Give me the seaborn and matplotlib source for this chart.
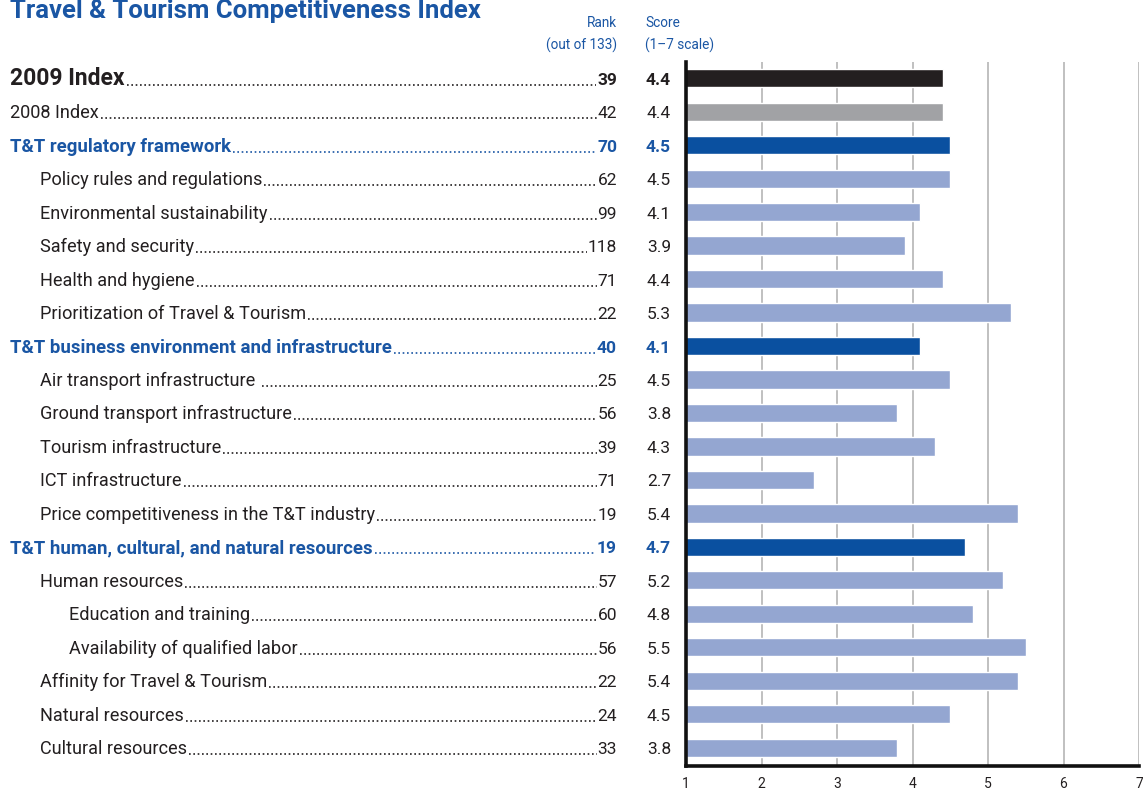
import matplotlib
matplotlib.use("Agg")
import matplotlib.pyplot as plt
import matplotlib.transforms as mtransforms
from matplotlib.lines import Line2D
import pandas as pd
import seaborn as sns

labels = ["2009 Index", "2008 Index", "T&T regulatory framework",
          "Policy rules and regulations", "Environmental sustainability",
          "Safety and security", "Health and hygiene",
          "Prioritization of Travel & Tourism",
          "T&T business environment and infrastructure",
          "Air transport infrastructure ", "Ground transport infrastructure",
          "Tourism infrastructure", "ICT infrastructure",
          "Price competitiveness in the T&T industry",
          "T&T human, cultural, and natural resources", "Human resources",
          "Education and training", "Availability of qualified labor",
          "Affinity for Travel & Tourism", "Natural resources",
          "Cultural resources"]
ranks = [39, 42, 70, 62, 99, 118, 71, 22, 40, 25, 56, 39, 71, 19,
         19, 57, 60, 56, 22, 24, 33]
scores = [4.4, 4.4, 4.5, 4.5, 4.1, 3.9, 4.4, 5.3, 4.1, 4.5, 3.8, 4.3, 2.7, 5.4,
          4.7, 5.2, 4.8, 5.5, 5.4, 4.5, 3.8]
kinds = ["overall", "previous", "pillar", "sub", "sub", "sub", "sub", "sub",
         "pillar", "sub", "sub", "sub", "sub", "sub",
         "pillar", "sub", "subsub", "subsub", "sub", "sub", "sub"]

palette = {"overall": "#231f20", "previous": "#a1a2a5", "pillar": "#0a50a0",
           "sub": "#94a6d1", "subsub": "#94a6d1"}
blue = "#1a56a4"
dark = "#231f20"
indent = {"overall": 10, "previous": 10, "pillar": 10, "sub": 40, "subsub": 69}

df = pd.DataFrame({"label": labels, "score": scores, "kind": kinds})

sns.set_style("white")
plt.rcParams["font.family"] = ["Roboto", "DejaVu Sans"]

W, H = 1143, 792
fig = plt.figure(figsize=(W / 100, H / 100), dpi=100)
ax = fig.add_axes([686 / W, 1 - 766 / H, (1139 - 686) / W, (766 - 62) / H])

sns.barplot(data=df, x="score", y="label", hue="kind", palette=palette,
            dodge=False, legend=False, orient="h", width=0.54,
            saturation=1, ax=ax)

ax.set_xlim(1, 7)
ax.set_ylim(20.54, -0.48)
ax.set_xticks(range(1, 8))
ax.set_yticks([])
ax.set_xlabel("")
ax.set_ylabel("")
ax.grid(axis="x", color="#b5b5b5", linewidth=1.2)
ax.set_axisbelow(True)
for s in ["top", "right"]:
    ax.spines[s].set_visible(False)
for s in ["left", "bottom"]:
    ax.spines[s].set_color("#111111")
    ax.spines[s].set_linewidth(2.6)
ax.tick_params(axis="x", length=0, pad=8, labelsize=10, labelcolor=dark)

# title and column headers
fig.text(10 / W, 1 - 18 / H, "Travel & Tourism Competitiveness Index",
         fontsize=18.5, fontweight="bold", color=blue, va="baseline")
hdr = dict(fontsize=9.8, color=blue, va="baseline")
fig.text(617 / W, 1 - 27 / H, "Rank", ha="right", **hdr)
fig.text(617 / W, 1 - 50 / H, "(out of 133)", ha="right", **hdr)
fig.text(645 / W, 1 - 27 / H, "Score", ha="left", **hdr)
fig.text(645 / W, 1 - 50 / H, "(1–7 scale)", ha="left", **hdr)

base = mtransforms.blended_transform_factory(fig.transFigure, ax.transData)
trans = base + mtransforms.ScaledTranslation(0, -0.065, fig.dpi_scale_trans)

items = []
for i, (lab, rk, sc, kd) in enumerate(zip(labels, ranks, scores, kinds)):
    if kd == "overall":
        col, wt, fs = dark, "bold", 16.5
    elif kd == "pillar":
        col, wt, fs = blue, "bold", 13.4
    else:
        col, wt, fs = dark, "normal", 13.1
    t1 = fig.text(indent[kd] / W, i, lab, transform=trans, color=col,
                  fontweight=wt, fontsize=fs, va="baseline")
    t2 = fig.text(617 / W, i, str(rk), transform=trans, color=col,
                  fontweight=wt, fontsize=12.5, ha="right", va="baseline")
    fig.text(671 / W, i, f"{sc:.1f}", transform=trans, color=col,
             fontweight=wt, fontsize=12.5, ha="right", va="baseline")
    items.append((i, t1, t2, col))

fig.canvas.draw()
r = fig.canvas.get_renderer()
for i, t1, t2, col in items:
    x0 = t1.get_window_extent(r).x1 / W + 2 / W
    x1 = t2.get_window_extent(r).x0 / W - 1 / W
    fig.add_artist(Line2D([x0, x1], [i, i], transform=trans, color=col,
                          linestyle=(0, (1, 1.6)), linewidth=1.2))

fig.savefig("out.png", dpi=100)
